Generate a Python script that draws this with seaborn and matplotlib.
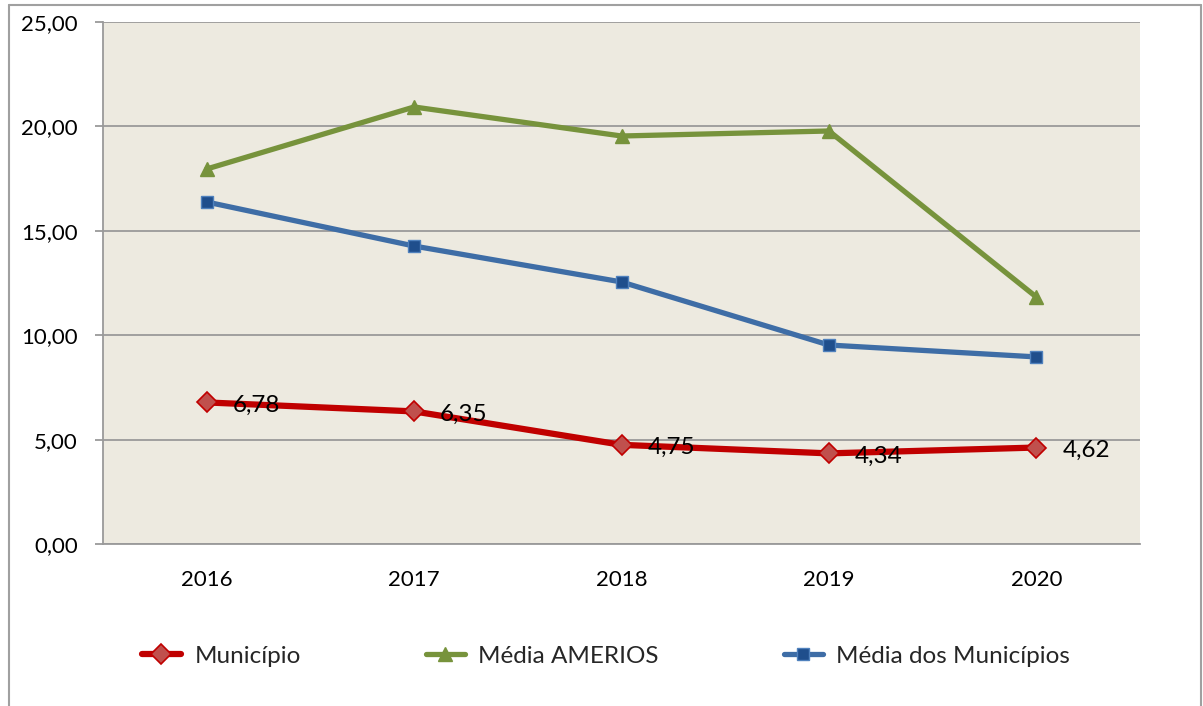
import matplotlib
matplotlib.use("Agg")
import matplotlib.pyplot as plt
import seaborn as sns
import pandas as pd
from matplotlib.ticker import FuncFormatter, MultipleLocator
from matplotlib.lines import Line2D

years = ["2016", "2017", "2018", "2019", "2020"]
municipio = [6.78, 6.35, 4.75, 4.34, 4.62]
media_amerios = [17.96, 20.93, 19.54, 19.78, 11.83]
media_municipios = [16.38, 14.27, 12.55, 9.53, 8.96]
series_names = ["Município", "Média AMERIOS", "Média dos Municípios"]

df = pd.DataFrame({
    "ano": years * 3,
    "valor": municipio + media_amerios + media_municipios,
    "serie": [series_names[0]] * 5 + [series_names[1]] * 5 + [series_names[2]] * 5,
})

sns.set_theme(style="white")
plt.rcParams["font.family"] = ["Lato", "DejaVu Sans"]

fig = plt.figure(figsize=(12.03, 7.06), dpi=100)
ax = fig.add_axes([103 / 1203, 1 - 544 / 706, (1140 - 103) / 1203, (544 - 22) / 706])
ax.set_facecolor("#EDEAE0")

line_colors = {series_names[0]: "#C00000", series_names[1]: "#77933C", series_names[2]: "#3E6DA6"}
markers = {series_names[0]: "D", series_names[1]: "^", series_names[2]: "s"}
sns.lineplot(data=df, x="ano", y="valor", hue="serie", style="serie",
             palette=line_colors, markers=markers, dashes=False, ax=ax,
             legend=False, sort=False)

styles = {
    series_names[0]: dict(lw=4.5, mfc="#C0504D", mec="#C00000", ms=10.5, mew=1.2),
    series_names[1]: dict(lw=3.8, mfc="#77933C", mec="#77933C", ms=10, mew=1),
    series_names[2]: dict(lw=3.8, mfc="#1F4E8C", mec="#4F81BD", ms=9, mew=1),
}
for line, name in zip(ax.get_lines(), series_names):
    s = styles[name]
    line.set_linewidth(s["lw"])
    line.set_markerfacecolor(s["mfc"])
    line.set_markeredgecolor(s["mec"])
    line.set_markersize(s["ms"])
    line.set_markeredgewidth(s["mew"])
    line.set_solid_capstyle("round")
    line.set_solid_joinstyle("round")

ax.set_xlim(-0.5, 4.5)
ax.set_ylim(0, 25)
ax.yaxis.set_major_locator(MultipleLocator(5))
ax.yaxis.set_major_formatter(FuncFormatter(lambda v, p: f"{v:.2f}".replace(".", ",")))
ax.grid(axis="y", color="#9A9A9A", lw=1.3)
ax.set_axisbelow(True)
ax.set_xlabel("")
ax.set_ylabel("")
for sp in ["top", "right"]:
    ax.spines[sp].set_visible(False)
for sp in ["left", "bottom"]:
    ax.spines[sp].set_color("#9A9A9A")
    ax.spines[sp].set_linewidth(1.3)
ax.tick_params(axis="y", length=6, width=1.3, color="#9A9A9A", pad=12, labelsize=16, labelcolor="black", left=True)
ax.tick_params(axis="x", length=0, pad=19, labelsize=16, labelcolor="black")

for i, v in enumerate(municipio):
    ax.annotate(f"{v:.2f}".replace(".", ","), (i, v), xytext=(26, -3),
                textcoords="offset pixels", ha="left", va="center", fontsize=17.5, color="black")

handles = []
for name in series_names:
    s = styles[name]
    handles.append(Line2D([0], [0], color=line_colors[name], lw=s["lw"], marker=markers[name],
                          mfc=s["mfc"], mec=s["mec"], ms=s["ms"], mew=s["mew"], solid_capstyle="round"))
fig.legend(handles, series_names, loc="center left", bbox_to_anchor=(142 / 1203, 1 - 656 / 706),
           ncol=3, frameon=False, fontsize=17.5, handlelength=1.6, handletextpad=0.55,
           columnspacing=5.15, borderaxespad=0, borderpad=0)

# outer chart frame
fc = "#A0A0A0"
fig.add_artist(Line2D([9 / 1203, 9 / 1203], [0, 1 - 5 / 706], color=fc, lw=1.5, transform=fig.transFigure))
fig.add_artist(Line2D([9 / 1203, 1201 / 1203], [1 - 5 / 706, 1 - 5 / 706], color=fc, lw=1.5, transform=fig.transFigure))
fig.add_artist(Line2D([1201 / 1203, 1201 / 1203], [0, 1 - 5 / 706], color=fc, lw=1.5, transform=fig.transFigure))

fig.savefig("out.png", dpi=100)
